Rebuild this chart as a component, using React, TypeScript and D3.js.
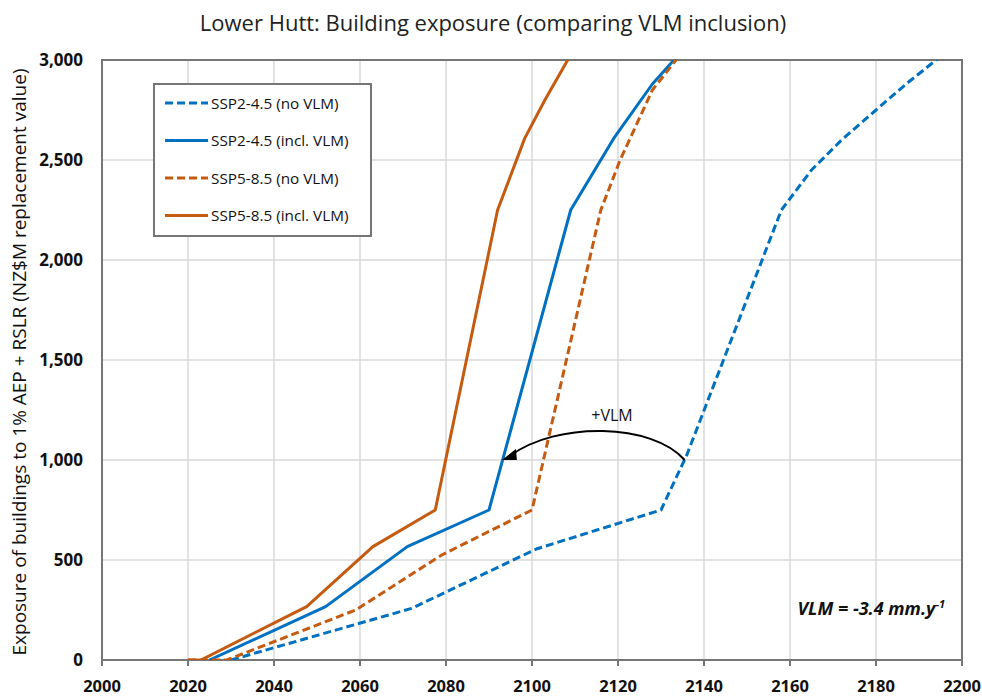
import React from "react";
import * as d3 from "d3";

const xTicks = [2000, 2020, 2040, 2060, 2080, 2100, 2120, 2140, 2160, 2180, 2200];
const yTicks = [0, 500, 1000, 1500, 2000, 2500, 3000];

const ssp245NoVlmYears = [2030, 2072, 2101, 2130, 2136, 2158, 2165, 2172, 2180, 2187, 2194, 2200];
const ssp245NoVlmValues = [0, 258, 555, 750, 1025, 2250, 2450, 2600, 2750, 2880, 3000, 3080];

const ssp245VlmYears = [2025, 2052, 2071, 2090, 2109, 2119, 2128, 2133, 2137];
const ssp245VlmValues = [0, 267, 567, 750, 2250, 2608, 2880, 3000, 3080];

const ssp585NoVlmYears = [2020, 2029, 2059, 2079, 2100, 2116, 2120.5, 2128, 2133.5, 2137];
const ssp585NoVlmValues = [0, 0, 250, 525, 750, 2250, 2500, 2850, 3000, 3080];

const ssp585VlmYears = [2020, 2023, 2047.6, 2063, 2077.5, 2092, 2098.3, 2103, 2108.3, 2110];
const ssp585VlmValues = [0, 0, 267, 567, 750, 2250, 2608, 2800, 3000, 3060];

const seriesNames = ["SSP2-4.5 (no VLM)", "SSP2-4.5 (incl. VLM)", "SSP5-8.5 (no VLM)", "SSP5-8.5 (incl. VLM)"];
const seriesColors = ["#0070C0", "#0070C0", "#C55A11", "#C55A11"];
const seriesDashed = [true, false, true, false];

const arrowFrom = { year: 2135.5, value: 1000 };
const arrowTo = { year: 2093, value: 1000 };

export default function App() {
  const W = 982, H = 698;
  const left = 102, right = 962, top = 60, bottom = 660;
  const x = d3.scaleLinear().domain([2000, 2200]).range([left, right]);
  const y = d3.scaleLinear().domain([0, 3000]).range([bottom, top]);

  const yearsList = [ssp245NoVlmYears, ssp245VlmYears, ssp585NoVlmYears, ssp585VlmYears];
  const valuesList = [ssp245NoVlmValues, ssp245VlmValues, ssp585NoVlmValues, ssp585VlmValues];
  const line = d3.line<[number, number]>().x(d => x(d[0])).y(d => y(d[1]));

  const ax0 = x(arrowFrom.year), ay0 = y(arrowFrom.value);
  const ax1 = x(arrowTo.year), ay1 = y(arrowTo.value);
  const arcPath = `M${ax0},${ay0} C${ax0 - 32},${ay0 - 37} ${ax1 + 55},${ay0 - 39} ${ax1 + 8},${ay1 - 4}`;

  const fontMain = "'Open Sans', 'Liberation Sans', sans-serif";

  return (
    <svg width={W} height={H} style={{ position: "absolute", left: 0, top: 0, background: "#fff" }} fontFamily={fontMain}>
      <defs>
        <clipPath id="plotClip">
          <rect x={left} y={top} width={right - left} height={bottom - top} />
        </clipPath>
      </defs>
      <rect x={0} y={0} width={W} height={H} fill="#fff" />
      <text x={493} y={31} textAnchor="middle" fontSize={22} fill="#222">
        Lower Hutt: Building exposure (comparing VLM inclusion)
      </text>
      {/* gridlines */}
      {xTicks.map(t => (
        <line key={"gx" + t} x1={x(t)} x2={x(t)} y1={top} y2={bottom} stroke="#d9d9d9" strokeWidth={1.5} />
      ))}
      {yTicks.map(t => (
        <line key={"gy" + t} x1={left} x2={right} y1={y(t)} y2={y(t)} stroke="#d9d9d9" strokeWidth={1.5} />
      ))}
      {/* frame */}
      <rect x={left} y={top} width={right - left} height={bottom - top} fill="none" stroke="#767676" strokeWidth={2} />
      {xTicks.map(t => (
        <line key={"tx" + t} x1={x(t)} x2={x(t)} y1={bottom} y2={bottom + 6} stroke="#767676" strokeWidth={2} />
      ))}
      {/* tick labels */}
      {xTicks.map(t => (
        <text key={"lx" + t} x={x(t)} y={bottom + 32} textAnchor="middle" fontSize={16.5} fontWeight="bold" fill="#111">
          {t}
        </text>
      ))}
      {yTicks.map(t => (
        <text key={"ly" + t} x={left - 19} y={y(t) + 6} textAnchor="end" fontSize={17} fontWeight="bold" fill="#111">
          {d3.format(",")(t)}
        </text>
      ))}
      <text transform={`translate(26,${(top + bottom) / 2 + 2}) rotate(-90)`} textAnchor="middle" fontSize={19} fill="#111">
        Exposure of buildings to 1% AEP + RSLR (NZ$M replacement value)
      </text>
      {/* series */}
      <g clipPath="url(#plotClip)">
        {yearsList.map((ys, i) => (
          <path
            key={"s" + i}
            d={line(ys.map((yr, j) => [yr, valuesList[i][j]] as [number, number])) || ""}
            fill="none"
            stroke={seriesColors[i]}
            strokeWidth={3}
            strokeDasharray={seriesDashed[i] ? "8,4" : undefined}
            strokeLinejoin="round"
          />
        ))}
      </g>
      {/* arrow annotation */}
      <path d={arcPath} fill="none" stroke="#000" strokeWidth={2} />
      <polygon points={`${ax1},${ay1} ${ax1 + 14},${ay1 - 11} ${ax1 + 15},${ay1}`} fill="#000" />
      <text x={612} y={421} textAnchor="middle" fontSize={16} fill="#111">+VLM</text>
      {/* VLM note */}
      <text x={945} y={615} textAnchor="end" fontSize={18} fontWeight="bold" fontStyle="italic" fill="#111">
        VLM = -3.4 mm.y<tspan dy={-7} fontSize={11}>-1</tspan>
      </text>
      {/* legend */}
      <rect x={154} y={84} width={217} height={152} fill="#fff" stroke="#767676" strokeWidth={2} />
      {seriesNames.map((n, i) => {
        const ly = 103 + i * 37.5;
        return (
          <g key={"lg" + i}>
            <line x1={165} x2={208} y1={ly} y2={ly} stroke={seriesColors[i]} strokeWidth={3} strokeDasharray={seriesDashed[i] ? "8,4" : undefined} />
            <text x={211} y={ly + 5.5} fontSize={15.3} fill="#111">{n}</text>
          </g>
        );
      })}
    </svg>
  );
}
